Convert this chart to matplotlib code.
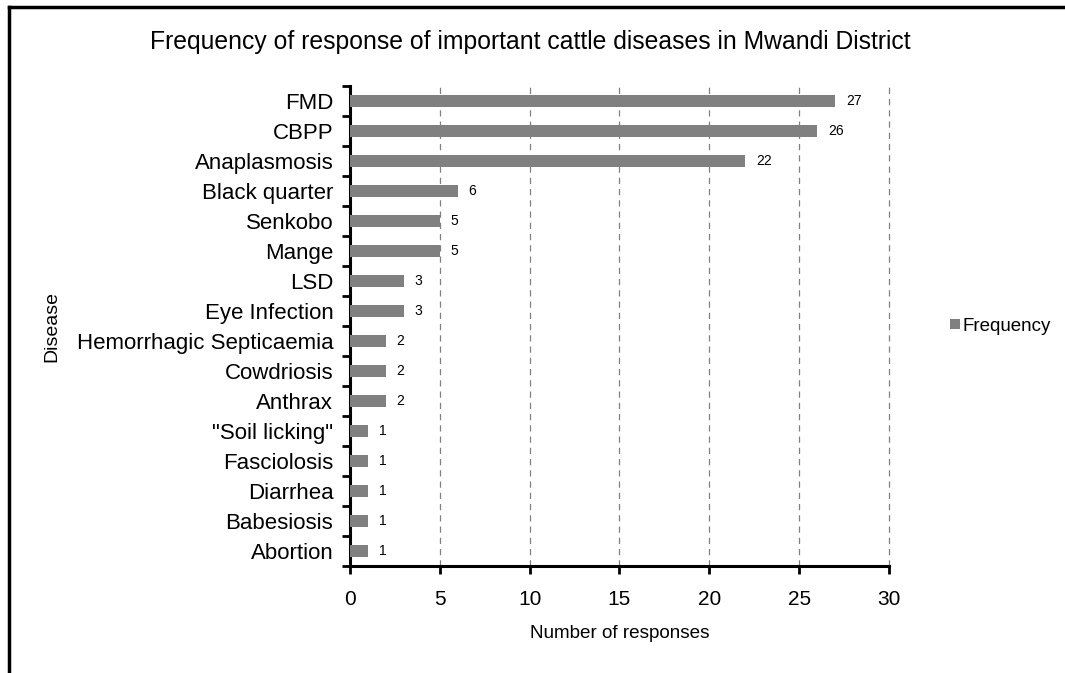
import numpy as np
import matplotlib
matplotlib.use('Agg')
import matplotlib.pyplot as plt
from matplotlib.lines import Line2D

plt.rcParams['font.family'] = ['Liberation Sans', 'DejaVu Sans']

#%% data
diseases = ['FMD', 'CBPP', 'Anaplasmosis', 'Black quarter', 'Senkobo', 'Mange',
            'LSD', 'Eye Infection', 'Hemorrhagic Septicaemia', 'Cowdriosis',
            'Anthrax', '"Soil licking"', 'Fasciolosis', 'Diarrhea', 'Babesiosis',
            'Abortion']
frequency = [27, 26, 22, 6, 5, 5, 3, 3, 2, 2, 2, 1, 1, 1, 1, 1]
x_ticks = [0, 5, 10, 15, 20, 25, 30]

#%% plot
fig = plt.figure(figsize=(10.65, 6.73), dpi=100)
ax = fig.add_axes([0.3286, 0.159, 0.5061, 0.713])

y = np.arange(len(diseases))[::-1]
bars = ax.barh(y, frequency, height=0.4, color='#808080', label='Frequency', zorder=3)

for yi, v in zip(y, frequency):
    ax.text(v + 0.6, yi, str(v), va='center', ha='left', fontsize=10)

ax.set_xlim(0, 30)
ax.set_ylim(-0.5, len(diseases) - 0.5)
ax.set_xticks(x_ticks)
ax.tick_params(axis='x', labelsize=15, length=6, width=2, direction='out', pad=11)

ax.set_yticks(y)
ax.set_yticklabels(diseases, fontsize=16)
ax.set_yticks(np.arange(-0.5, len(diseases)), minor=True)
ax.tick_params(axis='y', which='major', length=0, pad=12)
ax.tick_params(axis='y', which='minor', length=6, width=2, direction='out')

# dashed vertical gridlines
for x in x_ticks[1:]:
    ax.axvline(x, color='#808080', linestyle=(0, (5, 4)), linewidth=0.9,
               zorder=1, clip_on=False)

for side in ['top', 'right']:
    ax.spines[side].set_visible(False)
ax.spines['left'].set_linewidth(2.2)
ax.spines['bottom'].set_linewidth(2.2)

ax.set_xlabel('Number of responses', fontsize=13.6, labelpad=12)
ax.set_ylabel('Disease', fontsize=14)
ax.yaxis.set_label_coords(-0.538, 0.5)

fig.text(0.498, 0.937, 'Frequency of response of important cattle diseases in Mwandi District',
         ha='center', va='center', fontsize=17.8)

ax.legend(loc='center left', bbox_to_anchor=(1.1, 0.5), frameon=False, fontsize=13.5,
          handlelength=0.5, handleheight=0.5, handletextpad=0.15, borderaxespad=0)

# outer frame (left and top edges)
fig.add_artist(Line2D([0.008, 0.008], [0.0, 0.99], transform=fig.transFigure,
                      color='black', linewidth=2.5))
fig.add_artist(Line2D([0.008, 1.0], [0.99, 0.99], transform=fig.transFigure,
                      color='black', linewidth=2.5))

fig.savefig('out.png', dpi=100)
